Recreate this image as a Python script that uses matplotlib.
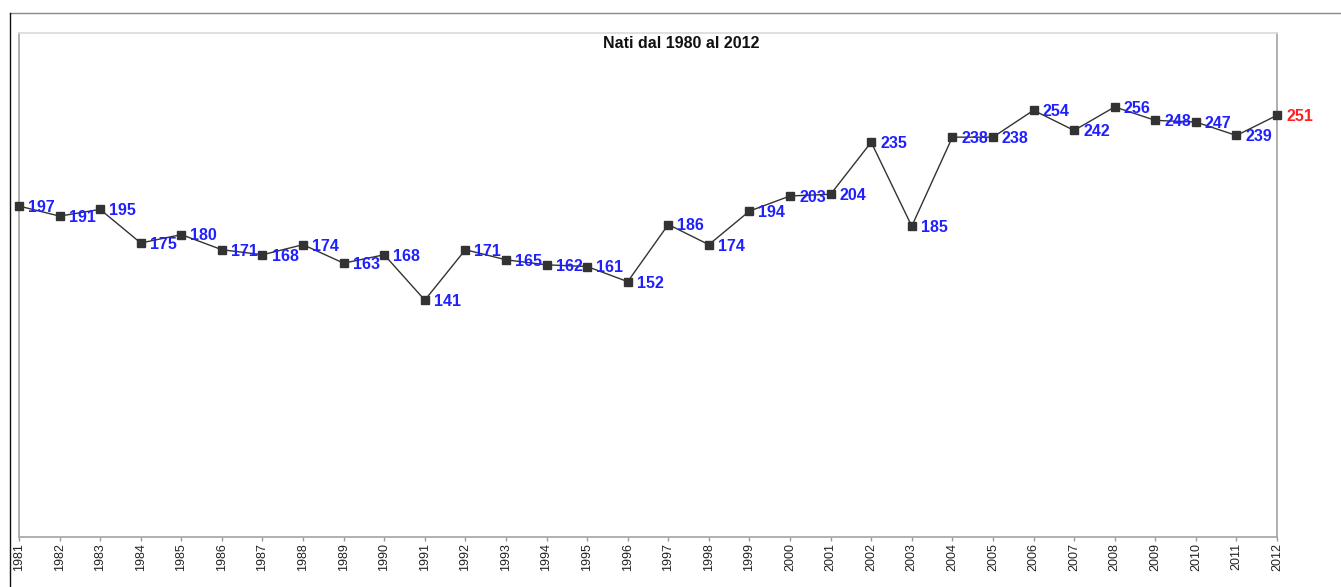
import matplotlib
matplotlib.use("Agg")
import matplotlib.pyplot as plt
from matplotlib.lines import Line2D

plt.rcParams['font.family'] = ['Liberation Sans', 'DejaVu Sans']

# Data
years = list(range(1981, 2013))
births = [197, 191, 195, 175, 180, 171, 168, 174, 163, 168, 141, 171, 165, 162, 161, 152,
          186, 174, 194, 203, 204, 235, 185, 238, 238, 254, 242, 256, 248, 247, 239, 251]
title = 'Nati dal 1980 al 2012'

W, H = 1341, 587
fig = plt.figure(figsize=(W / 100, H / 100), dpi=100)
ax = fig.add_axes([19 / W, 1 - 537 / H, (1277 - 19) / W, (537 - 33) / H])

ax.plot(years, births, color='#333333', linewidth=1.0, marker='s',
        markersize=6, markerfacecolor='#333333', markeredgecolor='#333333',
        clip_on=False, zorder=3)

# value labels, last one in red
for i, (x, y) in enumerate(zip(years, births)):
    col = '#ff2020' if i == len(years) - 1 else '#2020ff'
    ax.annotate(str(y), (x, y), xytext=(6.5, -1), textcoords='offset points',
                ha='left', va='center', fontsize=11.5, fontweight='bold',
                color=col, zorder=4)

ax.set_xlim(1981, 2012)
ax.set_ylim(0, 300)
ax.set_xticks(years)
ax.set_xticklabels([str(y) for y in years], rotation=90, fontsize=9, color='#222222')
ax.set_yticks(range(0, 301, 50))
ax.tick_params(axis='y', direction='in', length=2, color='white', labelleft=False)
ax.tick_params(axis='x', direction='out', length=3, color='#999999', width=1, pad=1.5)

for side in ['left', 'right', 'bottom']:
    ax.spines[side].set_color('#aaaaaa')
    ax.spines[side].set_linewidth(1.3)
ax.spines['top'].set_color('#dddddd')
ax.spines['top'].set_linewidth(1.3)

fig.text(681 / W, 1 - 43 / H, title, ha='center', va='center',
         fontsize=11.5, fontweight='bold', color='#111111')

# outer frame lines
fig.add_artist(Line2D([9.5 / W, 1], [1 - 13 / H, 1 - 13 / H], transform=fig.transFigure,
                      color='#888888', linewidth=1.0))
fig.add_artist(Line2D([9.5 / W, 9.5 / W], [0, 1 - 13 / H], transform=fig.transFigure,
                      color='#111111', linewidth=1.0))

fig.savefig('out.png', dpi=100)
